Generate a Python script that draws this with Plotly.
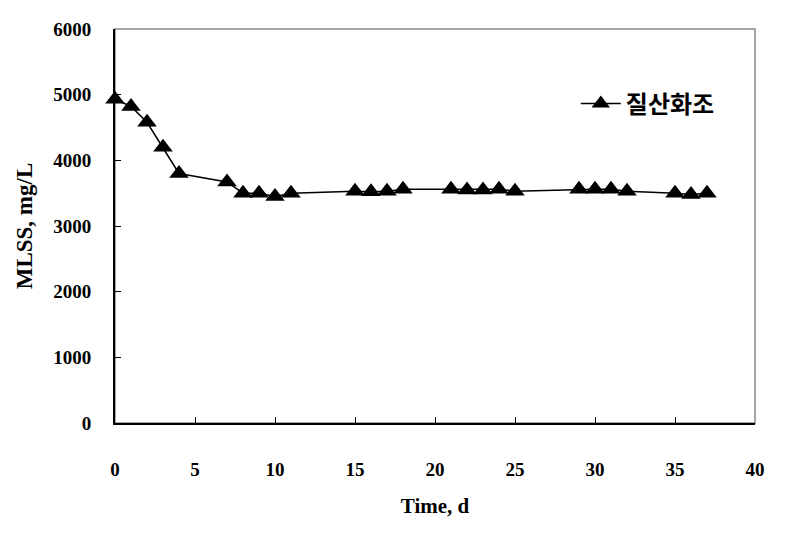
import plotly.graph_objects as go

days = [0, 1, 2, 3, 4, 7, 8, 9, 10, 11, 15, 16, 17, 18, 21, 22, 23, 24, 25, 29, 30, 31, 32, 35, 36, 37]
mlss = [4930, 4820, 4580, 4200, 3800, 3670, 3500, 3500, 3450, 3500, 3530, 3520, 3530, 3560,
        3560, 3550, 3550, 3560, 3530, 3560, 3560, 3560, 3530, 3500, 3480, 3500]
series_name = "질산화조"
x_ticks = [0, 5, 10, 15, 20, 25, 30, 35, 40]
y_ticks = [0, 1000, 2000, 3000, 4000, 5000, 6000]

fig = go.Figure()
fig.add_trace(go.Scatter(
    x=days, y=mlss, mode="lines+markers", name=series_name,
    line=dict(color="black", width=1.5),
    marker=dict(symbol="triangle-up", size=17, color="black"),
    cliponaxis=False,
))

tickfont = dict(family="Liberation Serif", size=19, color="black", weight="bold")
fig.update_layout(
    width=803, height=552,
    margin=dict(l=107, r=56, t=21, b=137),
    paper_bgcolor="white", plot_bgcolor="white",
    showlegend=True,
    legend=dict(x=0.72, y=0.81, xanchor="left", yanchor="middle", itemwidth=40,
                font=dict(family="Noto Sans CJK KR", size=24, color="black", weight="bold"),
                bgcolor="rgba(0,0,0,0)"),
    xaxis=dict(range=[0, 40], tickvals=x_ticks, ticks="inside", ticklen=6,
               tickcolor="black", showline=True, linecolor="black", linewidth=2,
               showgrid=False, zeroline=False, tickfont=tickfont, ticklabelstandoff=28,
               title=dict(text="Time, d",
                          font=dict(family="Liberation Serif", size=21, color="black", weight="bold"),
                          standoff=20)),
    yaxis=dict(range=[0, 6000], tickvals=y_ticks, ticks="inside", ticklen=6,
               tickcolor="black", showline=True, linecolor="black", linewidth=2,
               showgrid=False, zeroline=False, tickfont=tickfont, ticklabelstandoff=18,
               title=dict(text="MLSS, mg/L",
                          font=dict(family="Liberation Serif", size=23, color="black", weight="bold"),
                          standoff=14)),
)
fig.add_shape(type="rect", xref="paper", yref="paper", x0=0, y0=0, x1=1, y1=1,
              line=dict(color="#888888", width=1.5), layer="below")
fig.write_html("out.html")
